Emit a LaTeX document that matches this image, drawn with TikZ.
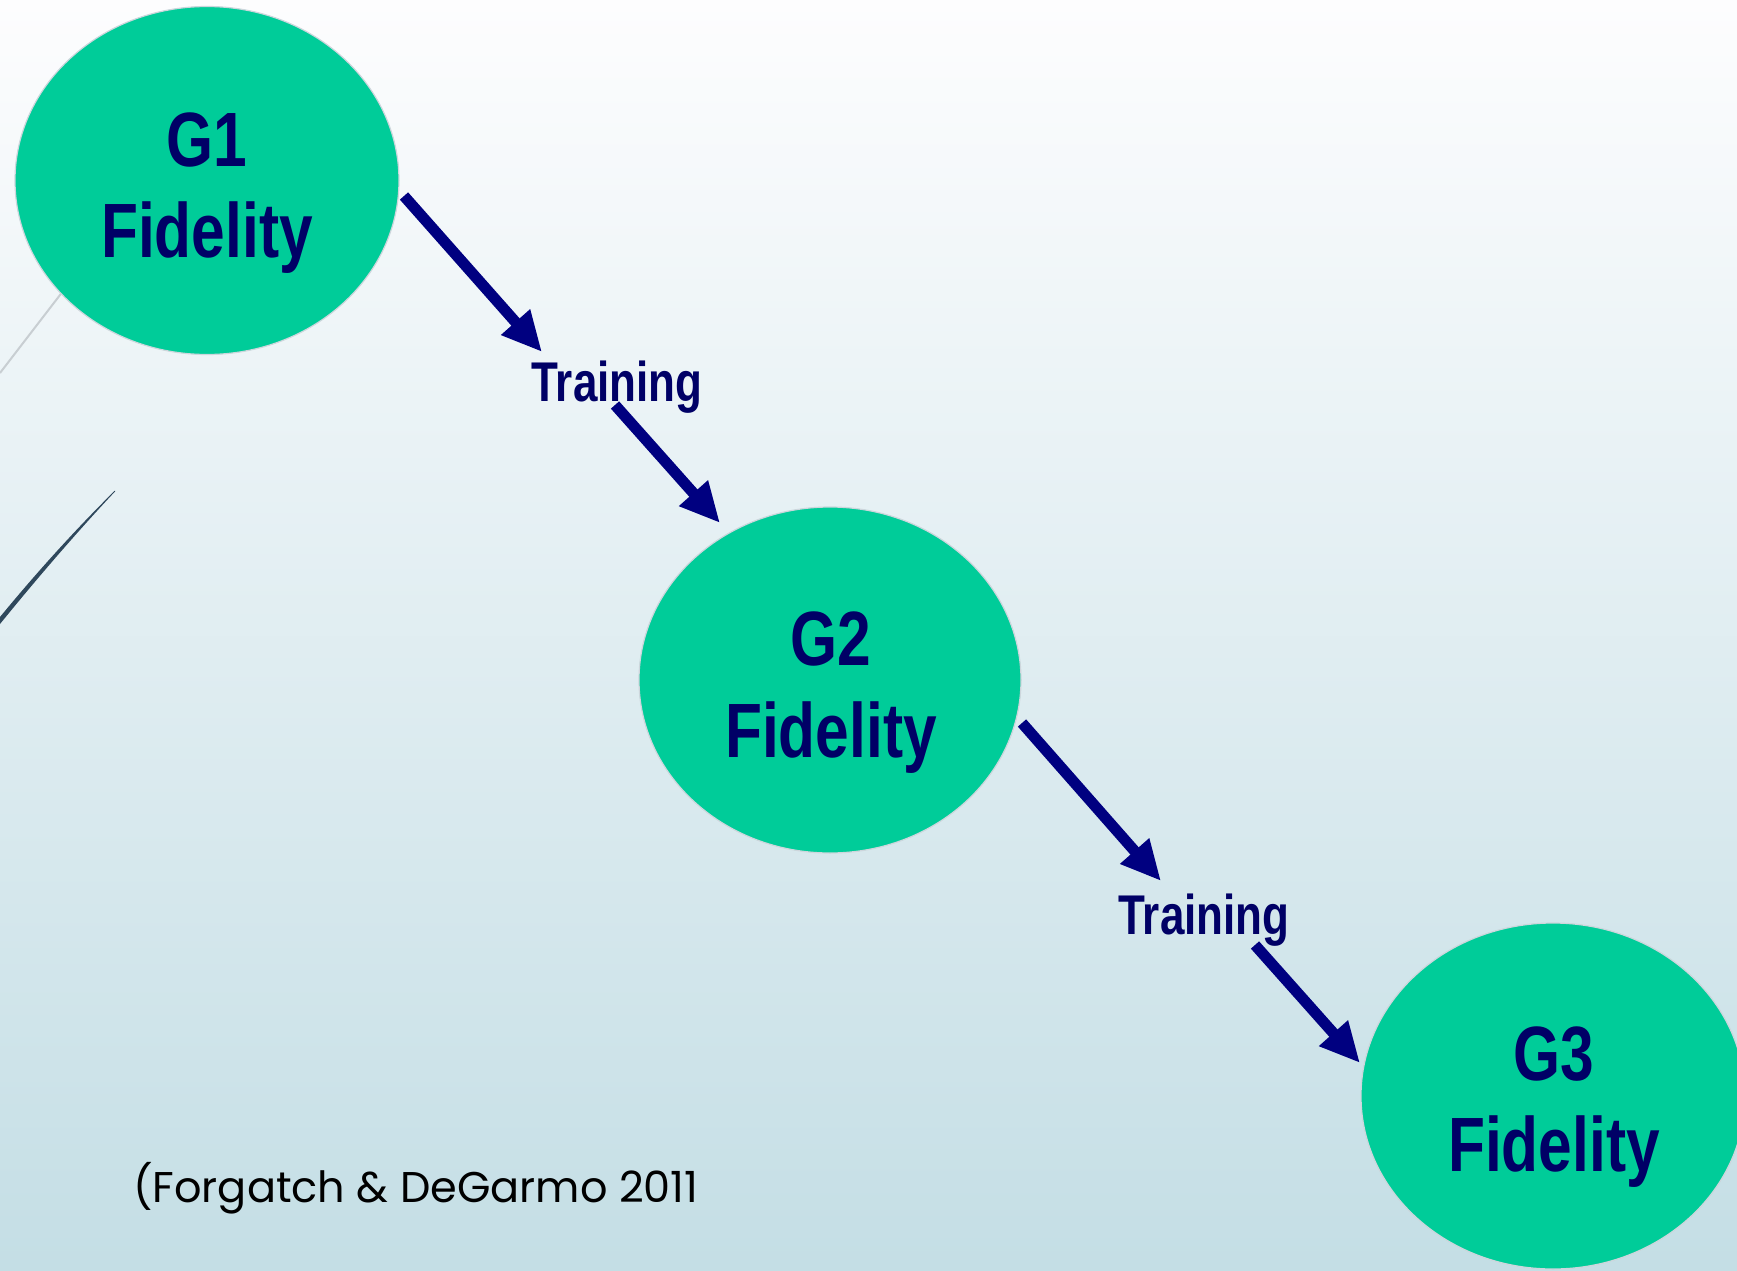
\documentclass[tikz,border=0pt]{standalone}
\usepackage{fontspec}
\usetikzlibrary{arrows.meta,shapes.geometric}
\newfontfamily\nbfont{Liberation Sans}[FakeStretch=0.785]
\newfontfamily\citefont{Poppins}
\definecolor{bubblefill}{RGB}{0,204,153}
\definecolor{bubbleline}{RGB}{205,214,220}
\definecolor{labnavy}{RGB}{0,0,102}
\definecolor{arrnavy}{RGB}{0,0,128}
\definecolor{bgtop}{RGB}{253,253,254}
\definecolor{bgbot}{RGB}{196,222,229}
\definecolor{grayline}{RGB}{200,206,210}
\definecolor{darkline}{RGB}{47,72,92}
\tikzset{
  bubble/.style={ellipse, fill=bubblefill, draw=bubbleline, line width=1.2pt, inner sep=0pt},
  gtext/.style={anchor=base, text=labnavy, font=\nbfont\bfseries\fontsize{77}{80}\selectfont, inner sep=0pt},
  ttext/.style={anchor=base, text=labnavy, font=\nbfont\bfseries\fontsize{56}{60}\selectfont, inner sep=0pt},
  arr/.style={draw=arrnavy, line width=11pt, line cap=butt, -{Triangle[length=40pt,width=36pt]}},
}
\begin{document}
\begin{tikzpicture}[x=1pt,y=-1pt]
\useasboundingbox (0,0) rectangle (1737,1271);
\shade[top color=bgtop, bottom color=bgbot] (0,0) rectangle (1737,1271);
% decorative lines
\draw[grayline, line width=2pt] (0,373) -- (110,230);
\fill[darkline] (115,490.5) .. controls (76,529) and (37,572) .. (0,617)
  -- (0,624) .. controls (39,576) and (78,531) .. (115,491.5) -- cycle;
% bubbles
\node[bubble, minimum width=384pt, minimum height=348pt] (g1) at (207,180.5) {};
\node[bubble, minimum width=382pt, minimum height=346pt] (g2) at (830,680) {};
\node[bubble, minimum width=384pt, minimum height=346pt] (g3) at (1553,1096) {};
\node[gtext] (g1a) at (207,166) {G1};
\node[gtext] (g1b) at (207,257) {Fidelity};
\node[gtext] (g2a) at (831,665) {G2};
\node[gtext] (g2b) at (831,757) {Fidelity};
\node[gtext] (g3a) at (1554,1080) {G3};
\node[gtext] (g3b) at (1554,1171) {Fidelity};
% training labels
\node[ttext] (t1) at (617,401) {Training};
\node[ttext] (t2) at (1204,934) {Training};
% arrow end points
\coordinate (a1s) at (404,196);
\coordinate (a1e) at (542,352);
\coordinate (a2s) at (615,405);
\coordinate (a2e) at (720,523);
\coordinate (a3s) at (1022,723);
\coordinate (a3e) at (1161,881);
\coordinate (a4s) at (1255,945);
\coordinate (a4e) at (1360,1063);
\draw[arr] (a1s) -- (a1e);
\draw[arr] (a2s) -- (a2e);
\draw[arr] (a3s) -- (a3e);
\draw[arr] (a4s) -- (a4e);
% citation
\node[anchor=base west, inner sep=0pt, text=black, font=\citefont\fontsize{43}{48}\selectfont] (cit) at (133,1202) {(Forgatch \& DeGarmo 2011};
\end{tikzpicture}
\end{document}
